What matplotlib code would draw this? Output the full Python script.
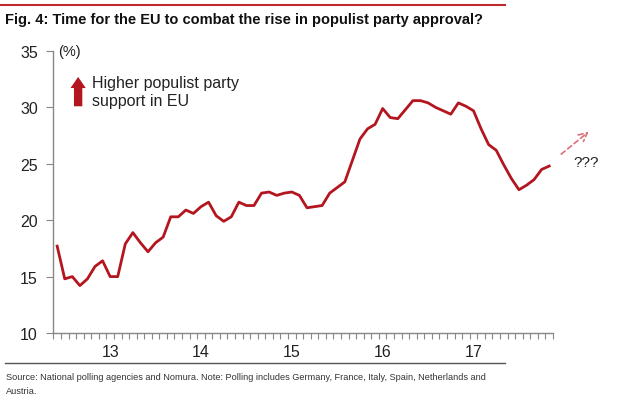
import matplotlib.pyplot as plt
import numpy as np
import pandas as pd
from matplotlib.lines import Line2D

plt.rcParams['font.family'] = ['Liberation Sans', 'DejaVu Sans']

# monthly readings, Dec 2012 .. May 2018
months = pd.date_range('2012-12-01', periods=66, freq='MS')
support = [17.7, 14.8, 15.0, 14.2, 14.8, 15.9, 16.4, 15.0, 15.0, 17.9,
           18.9, 18.0, 17.2, 18.0, 18.5, 20.3, 20.3, 20.9, 20.6, 21.2,
           21.6, 20.4, 19.9, 20.3, 21.6, 21.3, 21.3, 22.4, 22.5, 22.2,
           22.4, 22.5, 22.2, 21.1, 21.2, 21.3, 22.4, 22.9, 23.4, 25.3,
           27.2, 28.1, 28.5, 29.9, 29.1, 29.0, 29.8, 30.6, 30.6, 30.4,
           30.0, 29.7, 29.4, 30.4, 30.1, 29.7, 28.1, 26.7, 26.2, 24.9,
           23.7, 22.7, 23.1, 23.6, 24.5, 24.8]
year_labels = ['13', '14', '15', '16', '17']
yticks = [10, 15, 20, 25, 30, 35]

# month index relative to Jan 2013
m = (months.year - 2013) * 12 + (months.month - 1)

fig = plt.figure(figsize=(6.4, 4.06), dpi=100)
ax = fig.add_axes([53/640, 1 - 334/406, 500/640, 282/406])

red = '#b3161f'
ax.plot(m, support, color=red, lw=2)

ax.set_xlim(-1.55, 64.5)
ax.set_ylim(10, 35)
ax.set_yticks(yticks)

ax.set_xticks([6 + 12*i for i in range(len(year_labels))])
ax.set_xticklabels(year_labels)
ax.set_xticks(np.arange(-1.5, 65, 1), minor=True)
ax.tick_params(axis='x', which='major', length=0, pad=8, labelsize=11.5, colors='#222222')
ax.tick_params(axis='x', which='minor', length=4, width=0.8, color='#888888', direction='out')
ax.tick_params(axis='y', length=5, width=0.8, color='#888888', labelsize=11.5,
               labelcolor='#222222', pad=6)

for s in ['top', 'right']:
    ax.spines[s].set_visible(False)
for s in ['left', 'bottom']:
    ax.spines[s].set_color('#888888')
    ax.spines[s].set_linewidth(1)

ax.text(0.01, 1.0, '(%)', transform=ax.transAxes, fontsize=10.5, color='#222222',
        va='center', ha='left')

# red up arrow annotation
ax.annotate('', xy=(1.77, 32.7), xytext=(1.77, 30.1),
            arrowprops=dict(arrowstyle='simple,head_width=1.1,head_length=0.8,tail_width=0.6',
                            color=red, lw=0, shrinkA=0, shrinkB=0))
ax.text(3.6, 31.4, 'Higher populist party\nsupport in EU', fontsize=11.5,
        color='#222222', va='center', ha='left', linespacing=1.2)

# dashed arrow and question marks
ax.annotate('', xy=(69.5, 28.0), xytext=(65.3, 25.7), annotation_clip=False,
            arrowprops=dict(arrowstyle='->,head_width=0.3,head_length=0.6',
                            color='#d9707a', lw=1.2, linestyle=(0, (3, 2))))
ax.text(67.2, 25.2, '???', fontsize=11, color='#222222', ha='left', va='center')

# title and rules
fig.add_artist(Line2D([0, 505/640], [1 - 6/406, 1 - 6/406], color='#c0282d', lw=1.5))
fig.text(5/640, 1 - 20/406, 'Fig. 4: Time for the EU to combat the rise in populist party approval?',
         fontsize=10.5, fontweight='bold', va='center', ha='left', color='#111111')
fig.add_artist(Line2D([5/640, 505/640], [1 - 364/406, 1 - 364/406], color='#555555', lw=1))
fig.text(6/640, 1 - 378/406,
         'Source: National polling agencies and Nomura. Note: Polling includes Germany, France, Italy, Spain, Netherlands and',
         fontsize=6.6, va='center', ha='left', color='#333333')
fig.text(6/640, 1 - 392/406, 'Austria.',
         fontsize=6.6, va='center', ha='left', color='#333333')

fig.savefig('out.png', dpi=100)
